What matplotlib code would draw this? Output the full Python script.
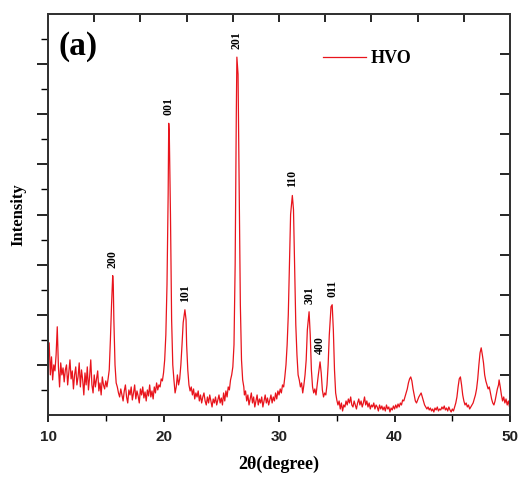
import numpy as np
import matplotlib.pyplot as plt

# XRD pattern: (2theta, intensity in a.u.)
scan_10_16 = [
    (10.0, 55), (10.1, 72), (10.2, 40), (10.3, 58), (10.4, 35), (10.5, 50), (10.6, 44),
    (10.7, 60), (10.8, 88), (10.9, 48), (11.0, 28), (11.1, 52), (11.2, 40), (11.3, 47),
    (11.4, 33), (11.5, 45), (11.6, 50), (11.7, 30), (11.8, 42), (11.9, 55), (12.0, 36),
    (12.1, 44), (12.2, 26), (12.3, 40), (12.4, 48), (12.5, 30), (12.6, 38), (12.7, 52),
    (12.8, 28), (12.9, 45), (13.0, 35), (13.1, 20), (13.2, 42), (13.3, 30), (13.4, 48),
    (13.5, 25), (13.6, 38), (13.7, 55), (13.8, 30), (13.9, 22), (14.0, 40), (14.1, 28),
    (14.2, 36), (14.3, 44), (14.4, 24), (14.5, 32), (14.6, 20), (14.7, 38), (14.8, 30),
    (14.9, 26), (15.0, 34), (15.1, 28), (15.2, 36), (15.3, 45), (15.4, 75), (15.5, 110),
    (15.6, 139), (15.65, 130), (15.7, 95), (15.8, 50), (15.9, 32),
]
scan_16_22 = [
    (16.0, 28), (16.1, 22), (16.2, 18), (16.3, 26), (16.4, 20), (16.5, 14), (16.6, 24),
    (16.7, 30), (16.8, 18), (16.9, 12), (17.0, 25), (17.1, 20), (17.2, 28), (17.3, 15),
    (17.4, 22), (17.5, 30), (17.6, 16), (17.7, 24), (17.8, 19), (17.9, 12), (18.0, 26),
    (18.1, 20), (18.2, 28), (18.3, 17), (18.4, 23), (18.5, 14), (18.6, 25), (18.7, 19),
    (18.8, 30), (18.9, 18), (19.0, 24), (19.1, 16), (19.2, 28), (19.3, 22), (19.4, 32),
    (19.5, 25), (19.6, 30), (19.7, 28), (19.8, 36), (19.9, 34), (20.0, 42), (20.1, 55),
    (20.2, 80), (20.3, 130), (20.4, 220), (20.45, 291), (20.5, 280), (20.6, 200),
    (20.7, 95), (20.8, 50), (20.9, 35), (21.0, 22), (21.1, 28), (21.2, 40), (21.3, 30),
    (21.4, 36), (21.5, 50), (21.6, 70), (21.7, 92), (21.85, 105), (21.95, 95), (22.0, 70),
    (22.1, 45), (22.2, 30),
]
scan_22_28 = [
    (22.3, 24), (22.4, 28), (22.5, 20), (22.6, 26), (22.7, 16), (22.8, 22), (22.9, 18),
    (23.0, 24), (23.1, 14), (23.2, 20), (23.3, 12), (23.4, 18), (23.5, 22), (23.6, 14),
    (23.7, 10), (23.8, 18), (23.9, 12), (24.0, 20), (24.1, 14), (24.2, 8), (24.3, 16),
    (24.4, 12), (24.5, 18), (24.6, 10), (24.7, 15), (24.8, 20), (24.9, 12), (25.0, 17),
    (25.1, 10), (25.2, 22), (25.3, 14), (25.4, 24), (25.5, 18), (25.6, 28), (25.7, 25),
    (25.8, 35), (25.9, 40), (26.0, 48), (26.1, 70), (26.2, 150), (26.3, 300),
    (26.35, 357), (26.45, 340), (26.55, 220), (26.65, 110), (26.75, 55), (26.85, 35),
    (26.95, 28), (27.0, 20), (27.1, 24), (27.2, 14), (27.3, 20), (27.4, 10), (27.5, 16),
    (27.6, 22), (27.7, 12), (27.8, 18), (27.9, 8),
]
scan_28_35 = [
    (28.0, 14), (28.1, 20), (28.2, 10), (28.3, 16), (28.4, 12), (28.5, 18), (28.6, 8),
    (28.7, 14), (28.8, 20), (28.9, 12), (29.0, 17), (29.1, 10), (29.2, 15), (29.3, 20),
    (29.4, 12), (29.5, 18), (29.6, 14), (29.7, 22), (29.8, 16), (29.9, 24), (30.0, 20),
    (30.1, 26), (30.2, 22), (30.3, 30), (30.4, 28), (30.5, 38), (30.6, 50), (30.7, 70),
    (30.8, 100), (30.9, 150), (31.0, 200), (31.15, 219), (31.25, 205), (31.35, 150),
    (31.45, 90), (31.55, 60), (31.65, 40), (31.75, 35), (31.85, 28), (31.95, 32),
    (32.05, 22), (32.15, 30), (32.25, 40), (32.35, 55), (32.45, 85), (32.6, 103),
    (32.7, 80), (32.8, 45), (32.9, 28), (33.0, 22), (33.1, 26), (33.2, 20), (33.3, 30),
    (33.4, 40), (33.55, 53), (33.65, 42), (33.75, 25), (33.85, 18), (33.95, 22),
    (34.05, 20), (34.15, 30), (34.25, 50), (34.35, 80), (34.5, 108), (34.6, 110),
    (34.7, 85), (34.8, 45), (34.9, 22),
]
scan_35_42 = [
    (35.0, 15), (35.1, 10), (35.2, 14), (35.3, 6), (35.4, 12), (35.5, 4), (35.6, 10),
    (35.7, 8), (35.8, 14), (35.9, 10), (36.0, 16), (36.1, 12), (36.2, 18), (36.3, 10),
    (36.4, 8), (36.5, 14), (36.6, 10), (36.7, 6), (36.8, 12), (36.9, 16), (37.0, 10),
    (37.1, 14), (37.2, 8), (37.3, 12), (37.4, 18), (37.5, 10), (37.6, 14), (37.7, 8),
    (37.8, 12), (37.9, 6), (38.0, 10), (38.1, 8), (38.2, 12), (38.3, 6), (38.4, 10),
    (38.5, 8), (38.6, 4), (38.7, 10), (38.8, 6), (38.9, 9), (39.0, 5), (39.1, 8),
    (39.2, 4), (39.3, 10), (39.4, 6), (39.5, 8), (39.6, 3), (39.7, 7), (39.8, 5),
    (39.9, 9), (40.0, 6), (40.1, 10), (40.2, 7), (40.3, 11), (40.4, 8), (40.5, 12),
    (40.6, 10), (40.7, 15), (40.8, 14), (40.9, 18), (41.0, 22), (41.1, 26), (41.2, 32),
    (41.3, 36), (41.4, 38), (41.5, 34), (41.6, 26), (41.7, 20), (41.8, 14), (41.9, 12),
]
scan_42_50 = [
    (42.0, 15), (42.1, 18), (42.2, 20), (42.3, 22), (42.4, 18), (42.5, 14), (42.6, 10),
    (42.7, 8), (42.8, 6), (42.9, 8), (43.0, 5), (43.1, 7), (43.2, 4), (43.3, 6),
    (43.4, 3), (43.5, 7), (43.6, 5), (43.7, 8), (43.8, 4), (43.9, 6), (44.0, 5),
    (44.1, 8), (44.2, 6), (44.3, 9), (44.4, 5), (44.5, 7), (44.6, 4), (44.7, 8),
    (44.8, 5), (44.9, 3), (45.0, 6), (45.1, 4), (45.2, 8), (45.3, 12), (45.4, 18),
    (45.5, 28), (45.6, 36), (45.7, 38), (45.8, 30), (45.9, 20), (46.0, 14), (46.1, 10),
    (46.2, 12), (46.3, 8), (46.4, 10), (46.5, 6), (46.6, 8), (46.7, 10), (46.8, 12),
    (46.9, 16), (47.0, 20), (47.1, 26), (47.2, 36), (47.3, 50), (47.4, 62), (47.5, 67),
    (47.6, 60), (47.7, 52), (47.8, 40), (47.9, 34), (48.0, 30), (48.1, 26), (48.2, 28),
    (48.3, 22), (48.4, 16), (48.5, 12), (48.6, 10), (48.7, 14), (48.8, 20), (48.9, 26),
    (49.0, 30), (49.05, 35), (49.15, 28), (49.25, 20), (49.35, 14), (49.45, 18),
    (49.55, 12), (49.65, 16), (49.75, 10), (49.85, 14), (49.95, 8), (50.0, 12),
]

# Miller indices and the peaks they sit on
hkl_labels = ["200", "001", "101", "201", "110", "301", "400", "011"]
hkl_pos = [15.6, 20.45, 21.85, 26.35, 31.15, 32.6, 33.55, 34.6]
hkl_height = [139, 291, 105, 357, 219, 103, 53, 110]

scan = np.array(scan_10_16 + scan_16_22 + scan_22_28 + scan_28_35 + scan_35_42 + scan_42_50)
two_theta = scan[:, 0]
intensity = scan[:, 1]

serif = "Liberation Serif"
sans = "Liberation Sans"

fig = plt.figure(figsize=(5.18, 4.8), dpi=100)
ax = fig.add_axes([0.0927, 0.1354, 0.892, 0.8354])

ax.plot(two_theta, intensity, color="#e8141c", lw=0.9, label="HVO")

ax.set_xlim(10, 50)
ax.set_ylim(0, 400)

ax.set_xticks([10, 20, 30, 40, 50])
ax.set_xticks([15, 25, 35, 45], minor=True)
ax.set_yticks(np.arange(50, 400, 50))
ax.set_yticks(np.arange(25, 400, 50), minor=True)
ax.set_yticklabels([])
ax.tick_params(axis="x", which="major", direction="out", length=5, width=1.2, pad=6)
ax.tick_params(axis="x", which="minor", direction="out", length=4, width=1.0)
ax.tick_params(axis="y", which="major", direction="out", length=8, width=1.2)
ax.tick_params(axis="y", which="minor", direction="out", length=5, width=1.0)
for lab in ax.get_xticklabels():
    lab.set_fontfamily(sans)
    lab.set_fontweight("bold")
    lab.set_fontsize(11)
    lab.set_color("#222222")

for sp in ax.spines.values():
    sp.set_linewidth(1.3)
    sp.set_color("#333333")

# top and right ticks pointing inward
top = ax.twiny()
top.set_xlim(10, 50)
top.set_xticks(np.arange(14, 50, 4))
top.set_xticklabels([])
top.tick_params(axis="x", direction="in", length=6, width=1.2)
right = ax.twinx()
right.set_ylim(0, 400)
right.set_yticks(np.arange(40, 400, 40))
right.set_yticklabels([])
right.tick_params(axis="y", direction="in", length=7, width=1.2)
for a in (top, right):
    for sp in a.spines.values():
        sp.set_linewidth(1.3)
        sp.set_color("#333333")

ax.set_xlabel("2θ(degree)", fontfamily=serif, fontweight="bold", fontsize=13, labelpad=8)
ax.set_ylabel("Intensity", fontfamily=serif, fontweight="bold", fontsize=12, labelpad=4)

for lab, x, h in zip(hkl_labels, hkl_pos, hkl_height):
    ax.text(x, h + 8, lab, rotation=90, ha="center", va="bottom",
            fontfamily=serif, fontweight="bold", fontsize=8.5)

ax.text(0.022, 0.92, "(a)", transform=ax.transAxes, fontfamily=serif,
        fontweight="bold", fontsize=24, va="center", ha="left")

leg = ax.legend(loc="center left", bbox_to_anchor=(0.56, 0.888), frameon=False,
                handlelength=2.4, handletextpad=0.25,
                prop={"family": serif, "weight": "bold", "size": 13})

fig.savefig("out.png", dpi=100)
